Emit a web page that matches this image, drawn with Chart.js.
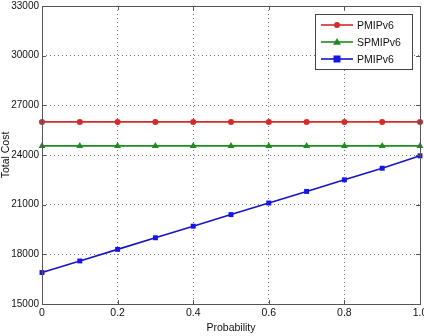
<!DOCTYPE html>
<html>
<head>
<meta charset="utf-8">
<script src="https://cdn.jsdelivr.net/npm/chart.js@4/dist/chart.umd.min.js"></script>
<style>
  html, body { margin: 0; padding: 0; background: #fff; }
  #wrap { width: 424px; height: 336px; position: relative; }
</style>
</head>
<body>
<div id="wrap"><canvas id="costChart" width="424" height="336"></canvas></div>
<script>
// Chart data
const probability = [0, 0.1, 0.2, 0.3, 0.4, 0.5, 0.6, 0.7, 0.8, 0.9, 1.0];
const pmipCost = [26000, 26000, 26000, 26000, 26000, 26000, 26000, 26000, 26000, 26000, 26000];
const spmipCost = [24550, 24550, 24550, 24550, 24550, 24550, 24550, 24550, 24550, 24550, 24550];
const pmip2Cost = [16900, 17600, 18300, 19000, 19700, 20400, 21100, 21800, 22500, 23200, 23950];
const seriesLabels = ['PMIPv6', 'SPMIPv6', 'PMIPv6'];

const FONT = 'Liberation Sans, Arial, sans-serif';

function toPoints(values) {
  return probability.map((p, i) => ({ x: p, y: values[i] }));
}

// Frame around the plot area, with small inward ticks
const frame = {
  id: 'frame',
  afterDraw(chart) {
    const { ctx, chartArea: a, scales } = chart;
    ctx.save();
    ctx.strokeStyle = '#555';
    ctx.lineWidth = 1;
    ctx.strokeRect(a.left + 0.5, a.top + 0.5, a.right - a.left, a.bottom - a.top);
    ctx.beginPath();
    scales.x.ticks.forEach(t => {
      const px = Math.round(scales.x.getPixelForValue(t.value)) + 0.5;
      ctx.moveTo(px, a.bottom); ctx.lineTo(px, a.bottom - 4);
      ctx.moveTo(px, a.top); ctx.lineTo(px, a.top + 4);
    });
    scales.y.ticks.forEach(t => {
      const py = Math.round(scales.y.getPixelForValue(t.value)) + 0.5;
      ctx.moveTo(a.left, py); ctx.lineTo(a.left + 4, py);
      ctx.moveTo(a.right, py); ctx.lineTo(a.right - 4, py);
    });
    ctx.stroke();
    ctx.restore();
  }
};

// Matlab-style legend box inside the plot
const boxLegend = {
  id: 'boxLegend',
  afterDraw(chart) {
    const { ctx } = chart;
    const x0 = 315, y0 = 14, w = 97, h = 55;
    ctx.save();
    ctx.fillStyle = '#fff';
    ctx.fillRect(x0, y0, w, h);
    ctx.strokeStyle = '#444';
    ctx.lineWidth = 1;
    ctx.strokeRect(x0 + 0.5, y0 + 0.5, w, h);
    ctx.font = '10.5px ' + FONT;
    ctx.textBaseline = 'middle';
    chart.data.datasets.forEach((ds, i) => {
      const y = y0 + 11 + i * 17;
      const cx = x0 + 22;
      ctx.strokeStyle = ds.borderColor;
      ctx.lineWidth = 1.6;
      ctx.beginPath();
      ctx.moveTo(x0 + 6, y);
      ctx.lineTo(x0 + 38, y);
      ctx.stroke();
      ctx.fillStyle = ds.backgroundColor;
      ctx.beginPath();
      const r = ds.pointRadius;
      if (ds.pointStyle === 'circle') {
        ctx.arc(cx, y, r, 0, Math.PI * 2);
      } else if (ds.pointStyle === 'triangle') {
        ctx.moveTo(cx, y - r);
        ctx.lineTo(cx + r, y + r * 0.7);
        ctx.lineTo(cx - r, y + r * 0.7);
        ctx.closePath();
      } else {
        ctx.rect(cx - r, y - r, r * 2, r * 2);
      }
      ctx.fill();
      ctx.fillStyle = '#111';
      ctx.fillText(seriesLabels[i], x0 + 42, y + 1);
    });
    ctx.restore();
  }
};

const ctx = document.getElementById('costChart').getContext('2d');
new Chart(ctx, {
  type: 'line',
  data: {
    datasets: [
      {
        label: seriesLabels[0],
        data: toPoints(pmipCost),
        borderColor: '#d42a2a',
        backgroundColor: '#d42a2a',
        borderWidth: 1.6,
        pointStyle: 'circle',
        pointRadius: 3,
        pointBorderWidth: 0
      },
      {
        label: seriesLabels[1],
        data: toPoints(spmipCost),
        borderColor: '#1c8c1c',
        backgroundColor: '#1c8c1c',
        borderWidth: 1.6,
        pointStyle: 'triangle',
        pointRadius: 4,
        pointBorderWidth: 0
      },
      {
        label: seriesLabels[2],
        data: toPoints(pmip2Cost),
        borderColor: '#1515c0',
        backgroundColor: '#1515ee',
        borderWidth: 1.6,
        pointStyle: 'rect',
        pointRadius: 3.5,
        pointBorderWidth: 0
      }
    ]
  },
  options: {
    responsive: false,
    animation: false,
    clip: false,
    layout: { padding: { top: 6, right: 3, left: 0, bottom: 0 } },
    plugins: {
      legend: { display: false },
      tooltip: { enabled: false }
    },
    scales: {
      x: {
        type: 'linear',
        min: 0,
        max: 1,
        ticks: {
          stepSize: 0.2,
          color: '#111',
          font: { family: FONT, size: 10.5 },
          padding: 3,
          callback: v => v === 0 ? '0' : v.toFixed(1)
        },
        grid: { color: '#777', borderDash: [1, 3], drawTicks: false, lineWidth: 1 },
        border: { display: false, dash: [1, 3] },
        title: { display: true, text: 'Probability', color: '#111', font: { family: FONT, size: 10.5 }, padding: { top: 0, bottom: 2 } },
        afterFit: s => { s.height = 32; s.paddingRight = 0; s.paddingLeft = 0; }
      },
      y: {
        min: 15000,
        max: 33000,
        ticks: {
          stepSize: 3000,
          color: '#111',
          font: { family: FONT, size: 10 },
          padding: 3,
          callback: v => String(v)
        },
        grid: { color: '#777', borderDash: [1, 3], drawTicks: false, lineWidth: 1 },
        border: { display: false, dash: [1, 3] },
        title: { display: true, text: 'Total Cost', color: '#111', font: { family: FONT, size: 10.5 }, padding: { top: 0, bottom: 0 } },
        afterFit: s => { s.width = 42; s.paddingTop = 0; s.paddingBottom = 0; }
      }
    }
  },
  plugins: [frame, boxLegend]
});
</script>
</body>
</html>
